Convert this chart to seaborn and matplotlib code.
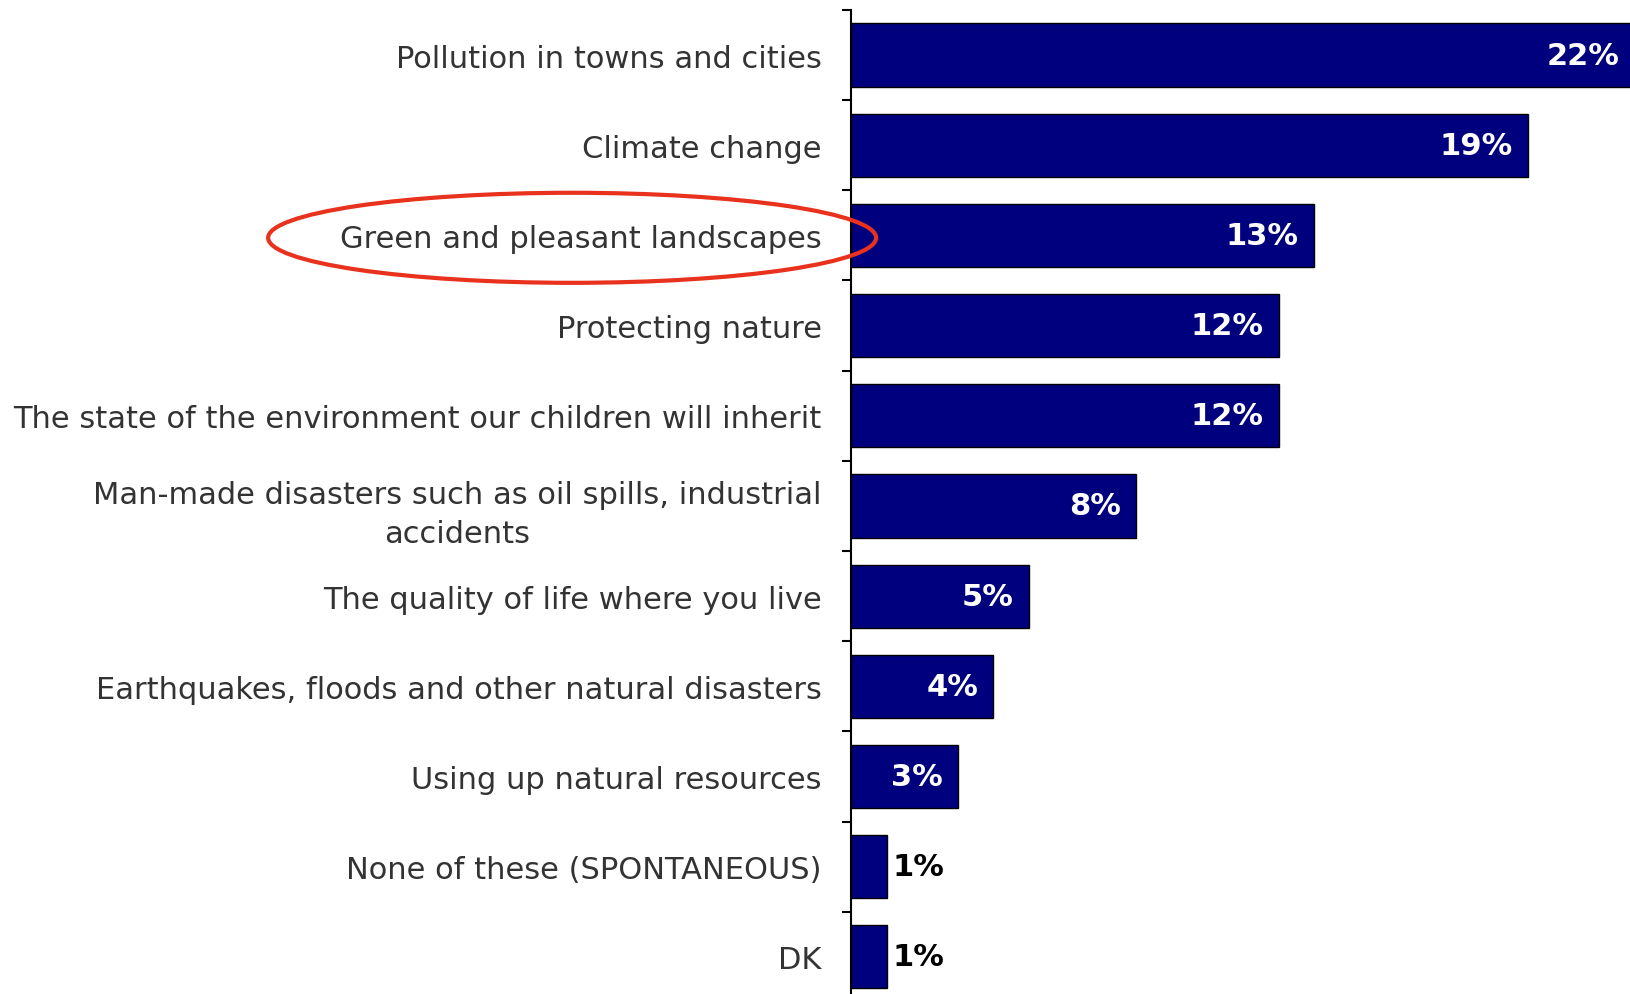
import numpy as np
import pandas as pd
import seaborn as sns
import matplotlib
matplotlib.use("Agg")
import matplotlib.pyplot as plt
from matplotlib.patches import Ellipse
from matplotlib.ticker import FixedLocator

# Survey answers, top to bottom
categories = [
    "Pollution in towns and cities",
    "Climate change",
    "Green and pleasant landscapes",
    "Protecting nature",
    "The state of the environment our children will inherit",
    "Man-made disasters such as oil spills, industrial\naccidents",
    "The quality of life where you live",
    "Earthquakes, floods and other natural disasters",
    "Using up natural resources",
    "None of these (SPONTANEOUS)",
    "DK",
]
values = [22, 19, 13, 12, 12, 8, 5, 4, 3, 1, 1]

sns.set_theme(style="white")
plt.rcParams['font.family'] = ['DejaVu Sans']

df = pd.DataFrame({'item': categories, 'share': values})

fig = plt.figure(figsize=(16.3, 9.95), dpi=100)
ax = fig.add_axes([0.522, -0.008, 0.478, 0.997])

sns.barplot(data=df, x='share', y='item', orient='h', color='#00007f',
            saturation=1, width=0.7, edgecolor='black', linewidth=1, ax=ax)

ax.set_xlim(0, 21.86)
ax.set_ylim(len(categories) - 0.5, -0.5)
ax.set_xlabel("")
ax.set_ylabel("")
ax.set_xticks([])

# category labels
ax.set_yticks(range(len(categories)))
ax.set_yticklabels(categories, fontsize=22, color='#333333')
for lbl in ax.get_yticklabels():
    lbl.set_multialignment('center')
    lbl.set_linespacing(1.45)
ax.tick_params(axis='y', which='major', length=0, pad=21)

# small ticks between bars
ax.yaxis.set_minor_locator(FixedLocator(np.arange(-0.5, len(categories), 1)))
ax.tick_params(axis='y', which='minor', left=True, length=6.5, width=1.5,
               color='black', direction='out')

for side in ['top', 'right', 'bottom']:
    ax.spines[side].set_visible(False)
ax.spines['left'].set_color('black')
ax.spines['left'].set_linewidth(1.5)

# value labels
for i, v in enumerate(values):
    if v >= 3:
        ax.annotate(f"{v}%", xy=(v, i), xytext=(-11, 0), textcoords='offset points',
                    ha='right', va='center', color='white', fontsize=22,
                    fontweight='bold', annotation_clip=False)
    else:
        ax.annotate(f"{v}%", xy=(v, i), xytext=(4, 0), textcoords='offset points',
                    ha='left', va='center', color='black', fontsize=22,
                    fontweight='bold', annotation_clip=False)

# red ring around the highlighted answer
ring = Ellipse((0.351, 0.760), 0.373, 0.0905, transform=fig.transFigure,
               fill=False, edgecolor='#e8321e', linewidth=3)
fig.add_artist(ring)

fig.savefig("out.png", dpi=100)
